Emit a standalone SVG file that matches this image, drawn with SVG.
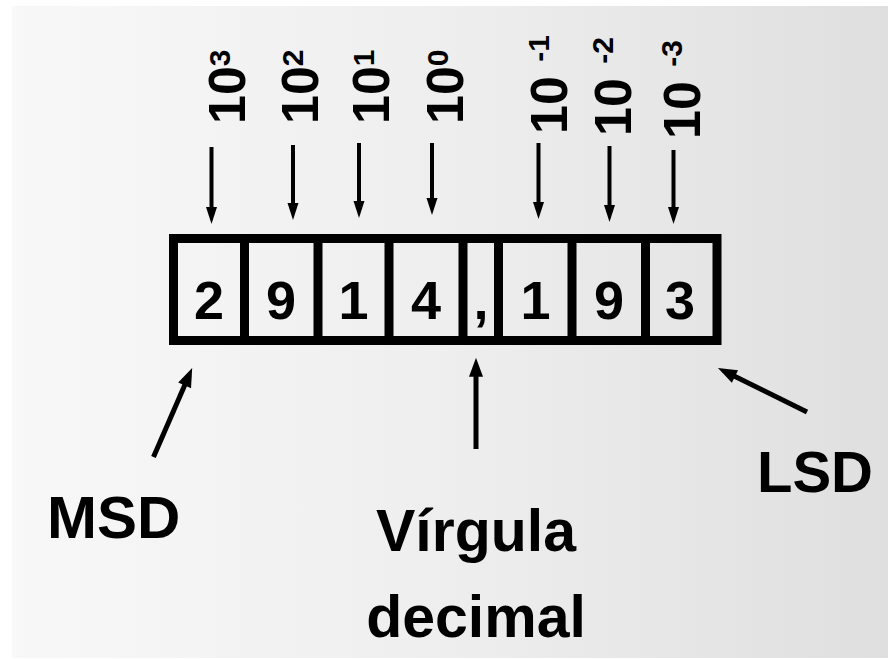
<svg xmlns="http://www.w3.org/2000/svg" width="888" height="659" viewBox="0 0 888 659">
  <defs>
    <linearGradient id="bg" x1="0" y1="0" x2="1" y2="0">
      <stop offset="0" stop-color="#f8f8f8"/>
      <stop offset="0.5" stop-color="#eeeeee"/>
      <stop offset="1" stop-color="#dfdfdf"/>
    </linearGradient>
    <marker id="headSmall" markerUnits="userSpaceOnUse" markerWidth="18" markerHeight="12" refX="9" refY="5.5" orient="auto" overflow="visible">
      <path d="M0,0 L17,5.5 L0,11 Z" fill="#000"/>
    </marker>
    <marker id="headBig" markerUnits="userSpaceOnUse" markerWidth="20" markerHeight="14" refX="10" refY="7" orient="auto" overflow="visible">
      <path d="M0,0 L19,7 L0,14 Z" fill="#000"/>
    </marker>
  </defs>
  <style>
    text { font-family: "Liberation Sans", Arial, sans-serif; font-weight: bold; fill: #000; }
    .digit { font-size: 54px; text-anchor: middle; }
    .pow { font-size: 52px; }
    .sup { font-size: 30px; }
    .label { font-size: 60px; }
    .frame { fill: none; stroke: #000; stroke-width: 9; }
    .sep { stroke: #000; stroke-width: 9; }
    .down { stroke: #000; stroke-width: 4; fill: none; marker-end: url(#headSmall); }
    .point { stroke: #000; stroke-width: 5; fill: none; marker-end: url(#headBig); }
  </style>

  <!-- backdrop -->
  <rect x="0" y="0" width="888" height="659" fill="#ffffff"/>
  <rect x="12" y="6" width="876" height="652" fill="url(#bg)"/>

  <!-- register frame with its cells -->
  <g id="register">
    <rect class="frame" x="173.5" y="238.5" width="543.5" height="102"/>
    <line class="sep" x1="244.5" y1="238" x2="244.5" y2="341"/>
    <line class="sep" x1="318" y1="238" x2="318" y2="341"/>
    <line class="sep" x1="389" y1="238" x2="389" y2="341"/>
    <line class="sep" x1="463" y1="238" x2="463" y2="341"/>
    <line class="sep" x1="498.5" y1="238" x2="498.5" y2="341"/>
    <line class="sep" x1="572" y1="238" x2="572" y2="341"/>
    <line class="sep" x1="645.5" y1="238" x2="645.5" y2="341"/>
  </g>
  <g id="cell-d3"><text class="digit" x="209" y="319">2</text></g>
  <g id="cell-d2"><text class="digit" x="281" y="319">9</text></g>
  <g id="cell-d1"><text class="digit" x="353.5" y="319">1</text></g>
  <g id="cell-d0"><text class="digit" x="426" y="319">4</text></g>
  <g id="cell-comma"><text class="digit" x="481" y="319">,</text></g>
  <g id="cell-dm1"><text class="digit" x="535.5" y="319">1</text></g>
  <g id="cell-dm2"><text class="digit" x="609" y="319">9</text></g>
  <g id="cell-dm3"><text class="digit" x="680" y="319">3</text></g>

  <!-- positional weights, written bottom-to-top -->
  <g id="weight-3"><text class="pow" transform="translate(245 124) rotate(-90)">10<tspan class="sup" dy="-15">3</tspan></text></g>
  <g id="weight-2"><text class="pow" transform="translate(318 124) rotate(-90)">10<tspan class="sup" dy="-15">2</tspan></text></g>
  <g id="weight-1"><text class="pow" transform="translate(389 124) rotate(-90)">10<tspan class="sup" dy="-15">1</tspan></text></g>
  <g id="weight-0"><text class="pow" transform="translate(463 124) rotate(-90)">10<tspan class="sup" dy="-15">0</tspan></text></g>
  <g id="weight-m1"><text class="pow" xml:space="preserve" transform="translate(567 134) rotate(-90)">10 <tspan class="sup" dy="-18">-1</tspan></text></g>
  <g id="weight-m2"><text class="pow" xml:space="preserve" transform="translate(631 136) rotate(-90)">10 <tspan class="sup" dy="-18">-2</tspan></text></g>
  <g id="weight-m3"><text class="pow" xml:space="preserve" transform="translate(700 139) rotate(-90)">10 <tspan class="sup" dy="-18">-3</tspan></text></g>

  <!-- callout labels -->
  <g id="msd"><text class="label" x="47" y="538">MSD</text></g>
  <g id="lsd"><text class="label" x="757" y="492" style="font-size:58px">LSD</text></g>
  <g id="virgula"><text class="label" x="476" y="551" text-anchor="middle" style="font-size:59px">Vírgula</text>
    <text class="label" x="476" y="637" text-anchor="middle" style="font-size:59px">decimal</text></g>

  <!-- connectors -->
  <g id="connectors">
    <line class="down" x1="211.5" y1="147" x2="211.5" y2="216"/>
    <line class="down" x1="293" y1="145" x2="293" y2="212"/>
    <line class="down" x1="359" y1="143" x2="359" y2="210"/>
    <line class="down" x1="432" y1="143" x2="432" y2="207"/>
    <line class="down" x1="538.5" y1="143" x2="538.5" y2="211"/>
    <line class="down" x1="609.5" y1="146" x2="609.5" y2="214"/>
    <line class="down" x1="673.5" y1="150" x2="673.5" y2="216"/>
    <line class="point" x1="153.5" y1="457" x2="188.6" y2="376.2"/>
    <line class="point" x1="476" y1="449" x2="476" y2="366.7"/>
    <line class="point" x1="807" y1="412" x2="726" y2="372.1"/>
  </g>
</svg>
